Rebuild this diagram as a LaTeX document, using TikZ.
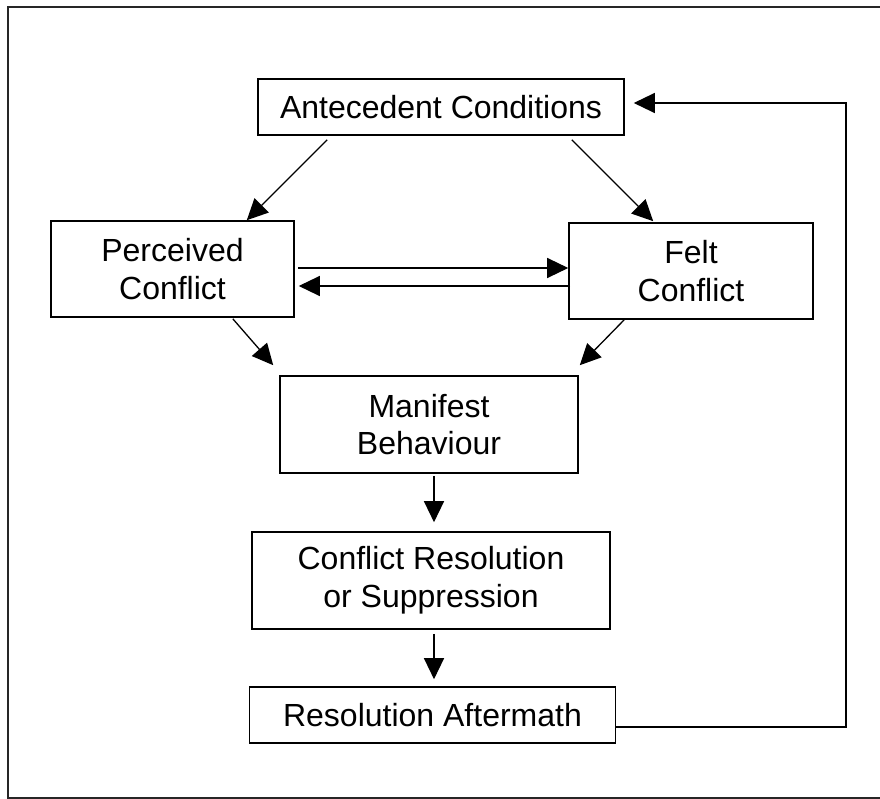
\documentclass[tikz,border=0pt]{standalone}
\usepackage{fontspec}
\setmainfont{Liberation Sans}
\usetikzlibrary{arrows.meta}
\begin{document}
\begin{tikzpicture}[x=1pt,y=-1pt,
  box/.style={draw=black,line width=1.6pt,inner sep=0pt,align=center,
    font=\fontsize{32}{37.7}\selectfont},
  arr/.style={draw=black,line width=1.3pt,-{Triangle[length=21pt,width=20pt]}}]
  \useasboundingbox (0,0) rectangle (880,799);
  \clip (0,0) rectangle (880,799);
  \fill[white] (0,0) rectangle (880,799);
  % outer frame (runs off the right edge)
  \draw[line width=2pt,draw=black!85] (900,7) -- (8,7) -- (8,797.5) -- (900,797.5);

  % boxes
  \node[box,minimum width=366pt,minimum height=56pt] (ant) at (441,107) {Antecedent Conditions};
  \node[box,minimum width=243pt,minimum height=96pt] (per) at (172.5,269) {Perceived\\Conflict};
  \node[box,minimum width=244pt,minimum height=96pt] (fel) at (691,271) {Felt\\Conflict};
  \node[box,minimum width=298pt,minimum height=97pt] (man) at (429,424.5) {Manifest\\Behaviour};
  \node[box,minimum width=358pt,minimum height=97pt] (res) at (431,580.5) {Conflict Resolution\\or Suppression};
  \node[box,minimum width=366pt,minimum height=56pt] (aft) at (432.5,715) {Resolution Aftermath};

  % connectors
  \draw[arr] ([shift={(70,4)}]ant.south west) -- ([shift={(-48,0)}]per.north east);
  \draw[arr] ([shift={(-53,4)}]ant.south east) -- ([shift={(85,-1)}]fel.north west);
  \draw[arr] ([shift={(3,-1)}]per.east) -- ([shift={(0,-3)}]fel.west);
  \draw[arr] ([shift={(2,15)}]fel.west) -- ([shift={(4,17)}]per.east);
  \draw[arr] ([shift={(-62,1)}]per.south east) -- ([shift={(-6,-10)}]man.north west);
  \draw[arr] ([shift={(56,0)}]fel.south west) -- ([shift={(1,-10)}]man.north east);
  \draw[arr] ([shift={(5,2)}]man.south) -- ([shift={(3,-9)}]res.north);
  \draw[arr] ([shift={(3,4)}]res.south) -- ([shift={(1.5,-7)}]aft.north);
  \coordinate (fb) at (846,727);
  \draw[arr] ([shift={(0,12)}]aft.east) -- (fb) |- ([shift={(9,-4)}]ant.east);
\end{tikzpicture}
\end{document}
